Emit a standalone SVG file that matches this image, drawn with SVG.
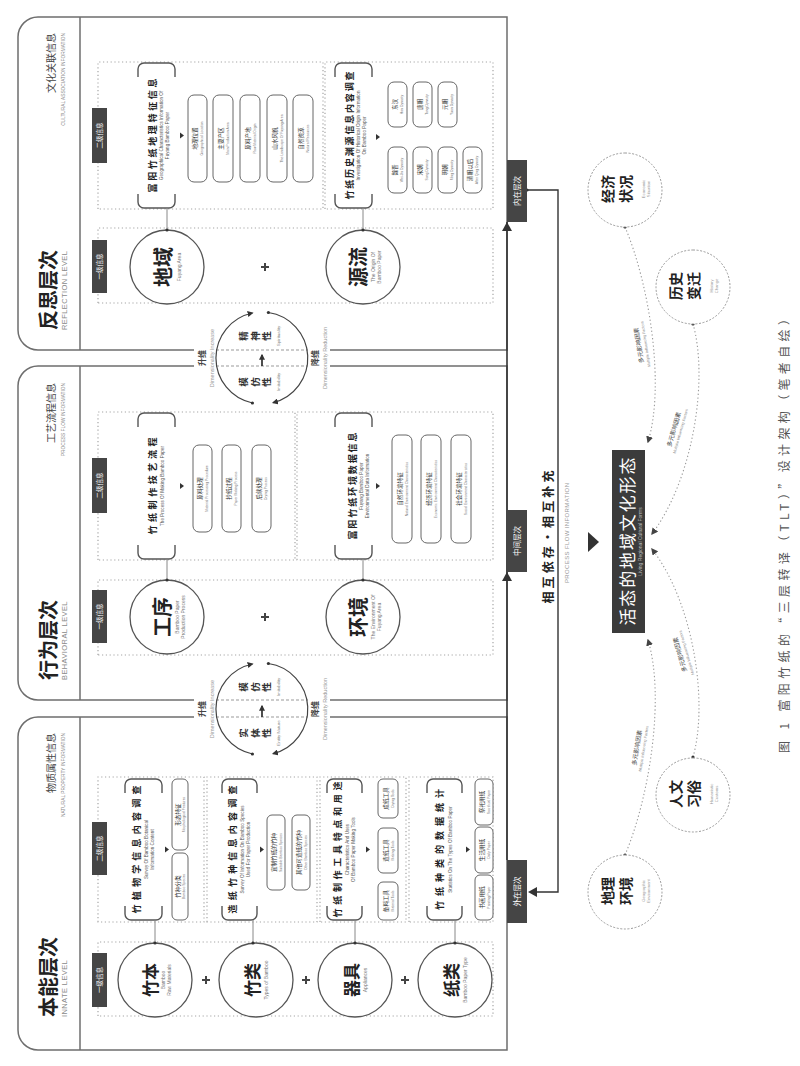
<svg xmlns="http://www.w3.org/2000/svg" width="800" height="1066" viewBox="0 0 800 1066">
<style>
.cn{font-family:"Noto Sans CJK SC","Noto Sans",sans-serif}
.en{font-family:"Liberation Sans",Arial,sans-serif}
.pan{fill:none;stroke:#6e6e6e;stroke-width:1.5}
.pdash{fill:none;stroke:#999;stroke-width:1;stroke-dasharray:3 2}
.dbox{fill:none;stroke:#a5a5a5;stroke-width:1.2;stroke-dasharray:1.2 2.6}
.lab{fill:#454545}
.labt{fill:#fff;font-size:6.5px;text-anchor:middle}
.brk{fill:none;stroke:#555;stroke-width:1.4}
.pill{fill:#fff;stroke:#666;stroke-width:1}
.pc{font-size:5.6px;fill:#333;text-anchor:middle}
.pe{font-size:3.4px;fill:#777;text-anchor:middle}
.circ{fill:#fff;stroke:#555;stroke-width:1.3}
.ctit{font-weight:700;fill:#222;text-anchor:middle}
.cen{font-size:5px;fill:#777;text-anchor:middle}
.stit{font-size:9px;font-weight:700;fill:#222;text-anchor:middle}
.sen{font-size:4.6px;fill:#555;text-anchor:middle}
.plus{stroke:#444;stroke-width:2;fill:none}
.conn{stroke:#888;stroke-width:1;fill:none}
.tri{fill:#333}
.dot{fill:#333}
.arc{fill:none;stroke:#444;stroke-width:1.2}
.gt{font-size:9.5px;font-weight:700;fill:#333;text-anchor:middle}
.ge{font-size:4.4px;fill:#888;text-anchor:middle}
.oc{fill:#fff;stroke:#999;stroke-width:1;stroke-dasharray:2 1.6}
.oct{font-size:14px;font-weight:700;fill:#222;text-anchor:middle}
.oce{font-size:4.2px;fill:#999;text-anchor:middle}
.cur{fill:none;stroke:#9a9a9a;stroke-width:1.1;stroke-dasharray:1.3 2.4}
.ml{font-size:6px;fill:#444;text-anchor:middle}
.me{font-size:3.8px;fill:#888;text-anchor:middle}
</style>
<defs>
<marker id="ah" viewBox="0 0 10 10" refX="8" refY="5" markerWidth="6" markerHeight="6" orient="auto" markerUnits="userSpaceOnUse"><path d="M0,0 L10,5 L0,10 z" fill="#333"/></marker>
<marker id="ah2" viewBox="0 0 10 10" refX="8" refY="5" markerWidth="7" markerHeight="7" orient="auto" markerUnits="userSpaceOnUse"><path d="M0,0 L10,5 L0,10 z" fill="#444"/></marker>
</defs>
<rect x="0" y="0" width="800" height="1066" fill="#fff"/>
<g transform="translate(0,1066) rotate(-90)">

<!-- ============ PANEL A : INNATE ============ -->
<g id="panel-innate">
<path class="pan" d="M349,194 V38 A20,20 0 0 0 329,18 H36 A20,20 0 0 0 16,38 V507 H349 V330"/>
<line class="pan" x1="16" y1="80" x2="349" y2="80"/>
<text class="cn" x="49" y="56" font-size="20" font-weight="700" fill="#222">本能层次</text>
<text class="en" x="49" y="67" font-size="7.5" fill="#8a8a8a" letter-spacing="0.4">INNATE LEVEL</text>
<text class="cn" x="333" y="55" font-size="10" text-anchor="end" fill="#444">物质属性信息</text>
<text class="en" x="333" y="65" font-size="4.8" text-anchor="end" fill="#888">NATURAL PROPERTY INFORMATION</text>
<rect class="dbox" x="50" y="98" width="74" height="395"/>
<rect class="dbox" x="144" y="98" width="145" height="106"/>
<rect class="dbox" x="144" y="207" width="145" height="110"/>
<rect class="dbox" x="144" y="320" width="145" height="86"/>
<rect class="dbox" x="144" y="409" width="145" height="84"/>
<rect class="lab" x="59" y="92" width="54" height="15"/>
<text class="cn labt" x="86" y="101.8">一级信息</text>
<rect class="lab" x="191" y="92" width="53" height="15"/>
<text class="cn labt" x="217.5" y="101.8">二级信息</text>
</g>
<g id="node-zhuben">
<circle class="circ" cx="86" cy="155" r="37"/>
<text class="cn ctit" x="86" y="157" font-size="17">竹本</text>
<text class="en cen" x="86" y="165">Bamboo</text>
<text class="en cen" x="86" y="171">Raw Materials</text>
</g>
<g id="node-zhulei">
<circle class="circ" cx="86" cy="256" r="37"/>
<text class="cn ctit" x="86" y="259" font-size="17">竹类</text>
<text class="en cen" x="86" y="268">Types of Bamboo</text>
</g>
<g id="node-qiju">
<circle class="circ" cx="86" cy="355" r="37"/>
<text class="cn ctit" x="86" y="358" font-size="17">器具</text>
<text class="en cen" x="86" y="367">Appliances</text>
</g>
<g id="node-zhilei">
<circle class="circ" cx="86" cy="455" r="37"/>
<text class="cn ctit" x="86" y="458" font-size="17">纸类</text>
<text class="en cen" x="86" y="467">Bamboo Paper Type</text>
</g>
<g id="survey-a1">
<path class="brk" d="M160,125 H152 A6,6 0 0 0 146,131 V156 A6,6 0 0 0 152,162 H160 M273,125 H281 A6,6 0 0 1 287,131 V156 A6,6 0 0 1 281,162 H273"/>
<text class="cn stit" x="216.5" y="140" textLength="128" lengthAdjust="spacing">竹植物学信息内容调查</text>
<text class="en sen" x="216.5" y="148">Survey Of Bamboo Botanical</text>
<text class="en sen" x="216.5" y="154">Information Content</text>
<path class="tri" d="M213.5,165 H219.5 L216.5,169 z"/>
<rect class="pill" x="146" y="172" width="67" height="16" rx="5"/>
<text class="cn pc" x="179.5" y="180">竹种分类</text>
<text class="en pe" x="179.5" y="185">Bamboo Species</text>
<rect class="pill" x="216" y="172" width="71" height="16" rx="5"/>
<text class="cn pc" x="251.5" y="180">形态特征</text>
<text class="en pe" x="251.5" y="185">Morphological Features</text>
</g>
<g id="survey-a2">
<path class="brk" d="M160,222 H152 A6,6 0 0 0 146,228 V251 A6,6 0 0 0 152,257 H160 M273,222 H281 A6,6 0 0 1 287,228 V251 A6,6 0 0 1 281,257 H273"/>
<text class="cn stit" x="216.5" y="236" textLength="128" lengthAdjust="spacing">造纸竹种信息内容调查</text>
<text class="en sen" x="216.5" y="244">Survey Of Information On Bamboo Species</text>
<text class="en sen" x="216.5" y="250">Used For Paper Production</text>
<path class="tri" d="M213.5,260 H219.5 L216.5,264 z"/>
<rect class="pill" x="176" y="267" width="75" height="18" rx="5"/>
<text class="cn pc" x="213.5" y="276">宜制竹纸的竹种</text>
<text class="en pe" x="213.5" y="281.5">Suitable Bamboo Species</text>
<rect class="pill" x="176" y="292" width="75" height="18" rx="5"/>
<text class="cn pc" x="213.5" y="301">其他可造纸的竹种</text>
<text class="en pe" x="213.5" y="306.5">Other Bamboo Species</text>
</g>
<g id="survey-a3">
<path class="brk" d="M160,327 H152 A6,6 0 0 0 146,333 V356 A6,6 0 0 0 152,362 H160 M273,327 H281 A6,6 0 0 1 287,333 V356 A6,6 0 0 1 281,362 H273"/>
<text class="cn stit" x="216.5" y="341" textLength="136" lengthAdjust="spacing">竹纸制作工具特点和用途</text>
<text class="en sen" x="216.5" y="349">Characteristics And Uses</text>
<text class="en sen" x="216.5" y="355">Of Bamboo Paper Making Tools</text>
<path class="tri" d="M213.5,366 H219.5 L216.5,370 z"/>
<rect class="pill" x="146" y="378" width="38" height="20" rx="5"/>
<text class="cn pc" x="165" y="388">备料工具</text>
<text class="en pe" x="165" y="394">Material Tools</text>
<rect class="pill" x="193" y="378" width="45" height="20" rx="5"/>
<text class="cn pc" x="215.5" y="388">造纸工具</text>
<text class="en pe" x="215.5" y="394">Making Tools</text>
<rect class="pill" x="248" y="378" width="39" height="20" rx="5"/>
<text class="cn pc" x="267.5" y="388">成纸工具</text>
<text class="en pe" x="267.5" y="394">Drying Tools</text>
</g>
<g id="survey-a4">
<path class="brk" d="M160,427 H152 A6,6 0 0 0 146,433 V456 A6,6 0 0 0 152,462 H160 M273,427 H281 A6,6 0 0 1 287,433 V456 A6,6 0 0 1 281,462 H273"/>
<text class="cn stit" x="216.5" y="443" textLength="121" lengthAdjust="spacing">竹纸种类的数据统计</text>
<text class="en sen" x="216.5" y="452">Statistics On The Types Of Bamboo Paper</text>
<path class="tri" d="M213.5,466 H219.5 L216.5,470 z"/>
<rect class="pill" x="146" y="475" width="45" height="18" rx="5"/>
<text class="cn pc" x="168.5" y="484">书画用纸</text>
<text class="en pe" x="168.5" y="489.5">Painting Paper</text>
<rect class="pill" x="193" y="475" width="46" height="18" rx="5"/>
<text class="cn pc" x="216" y="484">生活用纸</text>
<text class="en pe" x="216" y="489.5">Daily Paper</text>
<rect class="pill" x="241" y="475" width="46" height="18" rx="5"/>
<text class="cn pc" x="264" y="484">祭祀用纸</text>
<text class="en pe" x="264" y="489.5">Sacrificial Paper</text>
</g>

<!-- ============ PANEL B : BEHAVIORAL ============ -->
<g id="panel-behavioral">
<path class="pan" d="M366,194 V38 A20,20 0 0 1 386,18 H680 A20,20 0 0 1 700,38 V194 M700,330 V507 H366 V330"/>
<line class="pan" x1="366" y1="80" x2="700" y2="80"/>
<text class="cn" x="386" y="56" font-size="20" font-weight="700" fill="#222">行为层次</text>
<text class="en" x="386" y="67" font-size="7.5" fill="#8a8a8a" letter-spacing="0.4">BEHAVIORAL LEVEL</text>
<text class="cn" x="683" y="55" font-size="10" text-anchor="end" fill="#444">工艺流程信息</text>
<text class="en" x="683" y="65" font-size="4.8" text-anchor="end" fill="#888">PROCESS FLOW INFORMATION</text>
<rect class="dbox" x="411" y="98" width="75" height="395"/>
<rect class="dbox" x="506" y="98" width="148" height="197"/>
<rect class="dbox" x="506" y="297" width="148" height="196"/>
<rect class="lab" x="423" y="92" width="53" height="15"/>
<text class="cn labt" x="449.5" y="101.8">一级信息</text>
<rect class="lab" x="553" y="92" width="55" height="15"/>
<text class="cn labt" x="580.5" y="101.8">二级信息</text>
</g>
<g id="node-gongxu">
<circle class="circ" cx="449" cy="167" r="37"/>
<text class="cn ctit" x="449" y="170" font-size="20">工序</text>
<text class="en cen" x="449" y="179">Bamboo Paper</text>
<text class="en cen" x="449" y="185">Production Process</text>
</g>
<g id="node-huanjing">
<circle class="circ" cx="449" cy="363" r="37"/>
<text class="cn ctit" x="449" y="366" font-size="20">环境</text>
<text class="en cen" x="449" y="375">The Environment Of</text>
<text class="en cen" x="449" y="381">Fuyang Area</text>
</g>
<g id="survey-b1">
<path class="brk" d="M521,138 H513 A6,6 0 0 0 507,144 V169 A6,6 0 0 0 513,175 H521 M639,138 H647 A6,6 0 0 1 653,144 V169 A6,6 0 0 1 647,175 H639"/>
<text class="cn stit" x="580" y="156" textLength="97" lengthAdjust="spacing">竹纸制作技艺流程</text>
<text class="en sen" x="580" y="164">The Process Of Making Bamboo Paper</text>
<path class="tri" d="M577,180 H583 L580,184 z"/>
<rect class="pill" x="534" y="193" width="87" height="19" rx="6"/>
<text class="cn pc" x="577.5" y="202">原料处理</text>
<text class="en pe" x="577.5" y="208">Material Processing Procedure</text>
<rect class="pill" x="534" y="222" width="87" height="19" rx="6"/>
<text class="cn pc" x="577.5" y="231">抄纸过程</text>
<text class="en pe" x="577.5" y="237">Paper Making Process</text>
<rect class="pill" x="534" y="252" width="87" height="19" rx="6"/>
<text class="cn pc" x="577.5" y="261">后续处理</text>
<text class="en pe" x="577.5" y="267">Drying Process</text>
</g>
<g id="survey-b2">
<path class="brk" d="M521,335 H513 A6,6 0 0 0 507,341 V366 A6,6 0 0 0 513,372 H521 M639,335 H647 A6,6 0 0 1 653,341 V366 A6,6 0 0 1 647,372 H639"/>
<text class="cn stit" x="580" y="356" textLength="107" lengthAdjust="spacing">富阳竹纸环境数据信息</text>
<text class="en sen" x="580" y="363">Fuyang Bamboo Paper</text>
<text class="en sen" x="580" y="369">Environmental Data Information</text>
<path class="tri" d="M577,376 H583 L580,380 z"/>
<rect class="pill" x="523" y="392" width="108" height="20" rx="6"/>
<text class="cn pc" x="577" y="401.5">自然环境特征</text>
<text class="en pe" x="577" y="407.5">Natural Environment Characteristics</text>
<rect class="pill" x="523" y="421" width="108" height="20" rx="6"/>
<text class="cn pc" x="577" y="430.5">经济环境特征</text>
<text class="en pe" x="577" y="436.5">Economic Environment Characteristics</text>
<rect class="pill" x="523" y="451" width="108" height="20" rx="6"/>
<text class="cn pc" x="577" y="460.5">社会环境特征</text>
<text class="en pe" x="577" y="466.5">Social Environment Characteristics</text>
</g>

<!-- ============ PANEL C : REFLECTION ============ -->
<g id="panel-reflection">
<path class="pan" d="M716,194 V38 A20,20 0 0 1 736,18 H1029 A20,20 0 0 1 1049,38 V507 H716 V330"/>
<line class="pan" x1="716" y1="80" x2="1049" y2="80"/>
<text class="cn" x="736" y="56" font-size="20" font-weight="700" fill="#222">反思层次</text>
<text class="en" x="736" y="67" font-size="7.5" fill="#8a8a8a" letter-spacing="0.4">REFLECTION LEVEL</text>
<text class="cn" x="1033" y="55" font-size="10" text-anchor="end" fill="#444">文化关联信息</text>
<text class="en" x="1033" y="65" font-size="4.8" text-anchor="end" fill="#888">CULTURAL ASSOCIATION INFORMATION</text>
<rect class="dbox" x="763" y="98" width="75" height="395"/>
<rect class="dbox" x="857" y="98" width="147" height="225"/>
<rect class="dbox" x="857" y="325" width="147" height="168"/>
<rect class="lab" x="773" y="92" width="53" height="15"/>
<text class="cn labt" x="799.5" y="101.8">一级信息</text>
<rect class="lab" x="903" y="92" width="55" height="15"/>
<text class="cn labt" x="930.5" y="101.8">二级信息</text>
</g>
<g id="node-diyu">
<circle class="circ" cx="799" cy="167" r="37"/>
<text class="cn ctit" x="799" y="171" font-size="20">地域</text>
<text class="en cen" x="799" y="181">Fuyang Area</text>
</g>
<g id="node-yuanliu">
<circle class="circ" cx="799" cy="363" r="37"/>
<text class="cn ctit" x="799" y="366" font-size="20">源流</text>
<text class="en cen" x="799" y="375">The Origin Of</text>
<text class="en cen" x="799" y="381">Bamboo Paper</text>
</g>
<g id="survey-c1">
<path class="brk" d="M872,138 H864 A6,6 0 0 0 858,144 V169 A6,6 0 0 0 864,175 H872 M989,138 H997 A6,6 0 0 1 1003,144 V169 A6,6 0 0 1 997,175 H989"/>
<text class="cn stit" x="930.5" y="156" textLength="114" lengthAdjust="spacing">富阳竹纸地理特征信息</text>
<text class="en sen" x="930.5" y="163">Geographical Characteristics Information Of</text>
<text class="en sen" x="930.5" y="169">Fuyang Bamboo Paper</text>
<path class="tri" d="M927.5,180 H933.5 L930.5,184 z"/>
<rect class="pill" x="884" y="188" width="87" height="19" rx="6"/>
<text class="cn pc" x="927.5" y="197">地理位置</text>
<text class="en pe" x="927.5" y="203">Geographical Location</text>
<rect class="pill" x="884" y="213" width="87" height="20" rx="6"/>
<text class="cn pc" x="927.5" y="222.5">主要产区</text>
<text class="en pe" x="927.5" y="228.5">Main Production Area</text>
<rect class="pill" x="884" y="240" width="87" height="20" rx="6"/>
<text class="cn pc" x="927.5" y="249.5">原料产地</text>
<text class="en pe" x="927.5" y="255.5">Raw Material Origin</text>
<rect class="pill" x="884" y="267" width="87" height="20" rx="6"/>
<text class="cn pc" x="927.5" y="276.5">山水风貌</text>
<text class="en pe" x="927.5" y="282.5">The Landscape Of Fuyang Area</text>
<rect class="pill" x="884" y="293" width="87" height="20" rx="6"/>
<text class="cn pc" x="927.5" y="302.5">自然资源</text>
<text class="en pe" x="927.5" y="308.5">Natural Resources</text>
</g>
<g id="survey-c2">
<path class="brk" d="M872,335 H864 A6,6 0 0 0 858,341 V366 A6,6 0 0 0 864,372 H872 M989,335 H997 A6,6 0 0 1 1003,341 V366 A6,6 0 0 1 997,372 H989"/>
<text class="cn stit" x="930.5" y="353" textLength="128" lengthAdjust="spacing">竹纸历史渊源信息内容调查</text>
<text class="en sen" x="930.5" y="360">Investigation Of Historical Origin Information</text>
<text class="en sen" x="930.5" y="366">On Bamboo Paper</text>
<path class="tri" d="M926,376 H932 L929,380 z"/>
<rect class="pill" x="873" y="388" width="46" height="19" rx="6"/>
<text class="cn pc" x="896" y="397">魏晋</text>
<text class="en pe" x="896" y="403">Wei-Jin Dynasty</text>
<rect class="pill" x="873" y="413" width="46" height="19" rx="6"/>
<text class="cn pc" x="896" y="422">宋朝</text>
<text class="en pe" x="896" y="428">Song Dynasty</text>
<rect class="pill" x="873" y="438" width="46" height="19" rx="6"/>
<text class="cn pc" x="896" y="447">明朝</text>
<text class="en pe" x="896" y="453">Ming Dynasty</text>
<rect class="pill" x="873" y="463" width="46" height="19" rx="6"/>
<text class="cn pc" x="896" y="472">清朝以后</text>
<text class="en pe" x="896" y="478">After Qing Dynasty</text>
<rect class="pill" x="939" y="388" width="45" height="19" rx="6"/>
<text class="cn pc" x="961.5" y="397">东汉</text>
<text class="en pe" x="961.5" y="403">Han Dynasty</text>
<rect class="pill" x="939" y="413" width="45" height="19" rx="6"/>
<text class="cn pc" x="961.5" y="422">唐朝</text>
<text class="en pe" x="961.5" y="428">Tang Dynasty</text>
<rect class="pill" x="939" y="438" width="45" height="19" rx="6"/>
<text class="cn pc" x="961.5" y="447">元朝</text>
<text class="en pe" x="961.5" y="453">Yuan Dynasty</text>
</g>

<!-- ============ GAP CYCLES ============ -->
<g id="cycle-ab">
<line class="pdash" x1="349" y1="216" x2="349" y2="308"/>
<line class="pdash" x1="366" y1="216" x2="366" y2="308"/>
<path class="arc" d="M312,252.4 A46,46 0 0 1 402,252.4" marker-end="url(#ah)"/>
<path class="arc" d="M402.5,268.4 A46,46 0 0 1 312.4,273.1" marker-end="url(#ah)"/>
<circle class="dot" cx="312" cy="252.4" r="1.6"/>
<circle class="dot" cx="402.5" cy="268.4" r="1.6"/>
<text class="cn gt" x="333"><tspan x="333" y="247">实</tspan><tspan x="333" y="258.5">体</tspan><tspan x="333" y="270">性</tspan></text>
<text class="en ge" x="333" y="280">Entity Nature</text>
<text class="cn gt" x="379"><tspan x="379" y="247">模</tspan><tspan x="379" y="258.5">仿</tspan><tspan x="379" y="270">性</tspan></text>
<text class="en ge" x="379" y="280">Imitability</text>
<path d="M349,262 H360" stroke="#222" stroke-width="1.6" marker-end="url(#ah)"/>
<text class="cn" x="357" y="205" font-size="8" font-weight="700" fill="#444" text-anchor="middle">升维</text>
<text class="en" x="357" y="214" font-size="5.5" fill="#999" text-anchor="middle">Dimensionality Increase</text>
<text class="cn" x="357" y="318" font-size="8" font-weight="700" fill="#444" text-anchor="middle">降维</text>
<text class="en" x="357" y="327" font-size="5.5" fill="#999" text-anchor="middle">Dimensionality Reduction</text>
</g>
<g id="cycle-bc">
<line class="pdash" x1="700" y1="216" x2="700" y2="308"/>
<line class="pdash" x1="716" y1="216" x2="716" y2="308"/>
<path class="arc" d="M663,252.4 A46,46 0 0 1 753,252.4" marker-end="url(#ah)"/>
<path class="arc" d="M753.5,268.4 A46,46 0 0 1 663.4,273.1" marker-end="url(#ah)"/>
<circle class="dot" cx="663" cy="252.4" r="1.6"/>
<circle class="dot" cx="753.5" cy="268.4" r="1.6"/>
<text class="cn gt" x="684"><tspan x="684" y="247">模</tspan><tspan x="684" y="258.5">仿</tspan><tspan x="684" y="270">性</tspan></text>
<text class="en ge" x="684" y="280">Imitability</text>
<text class="cn gt" x="730"><tspan x="730" y="247">精</tspan><tspan x="730" y="258.5">神</tspan><tspan x="730" y="270">性</tspan></text>
<text class="en ge" x="730" y="280">Spirituality</text>
<path d="M700,262 H711" stroke="#222" stroke-width="1.6" marker-end="url(#ah)"/>
<text class="cn" x="708" y="205" font-size="8" font-weight="700" fill="#444" text-anchor="middle">升维</text>
<text class="en" x="708" y="214" font-size="5.5" fill="#999" text-anchor="middle">Dimensionality Increase</text>
<text class="cn" x="708" y="318" font-size="8" font-weight="700" fill="#444" text-anchor="middle">降维</text>
<text class="en" x="708" y="327" font-size="5.5" fill="#999" text-anchor="middle">Dimensionality Reduction</text>
</g>

<!-- ============ CONNECTORS ============ -->
<g id="connectors">
<line class="conn" x1="123" y1="155" x2="146" y2="155"/>
<line class="conn" x1="123" y1="253" x2="146" y2="253"/>
<line class="conn" x1="123" y1="355" x2="146" y2="355"/>
<line class="conn" x1="123" y1="455" x2="146" y2="455"/>
<line class="conn" x1="486" y1="167" x2="507" y2="167"/>
<line class="conn" x1="486" y1="363" x2="507" y2="363"/>
<line class="conn" x1="836" y1="167" x2="858" y2="167"/>
<line class="conn" x1="836" y1="363" x2="858" y2="363"/>
<circle class="dot" cx="123" cy="155" r="1.6"/>
<circle class="dot" cx="123" cy="253" r="1.6"/>
<circle class="dot" cx="123" cy="355" r="1.6"/>
<circle class="dot" cx="123" cy="455" r="1.6"/>
<circle class="dot" cx="486" cy="167" r="1.6"/>
<circle class="dot" cx="486" cy="363" r="1.6"/>
<circle class="dot" cx="836" cy="167" r="1.6"/>
<circle class="dot" cx="836" cy="363" r="1.6"/>
<path class="plus" d="M82,206 H90 M86,202 V210 M82,306 H90 M86,302 V310 M82,405 H90 M86,401 V409 M445,265 H453 M449,261 V269 M795,265 H803 M799,261 V269"/>
<line x1="206" y1="507" x2="844" y2="507" stroke="#333" stroke-width="1.6"/>
<path class="tri" d="M494,507 L485,502 L485,512 z"/>
<path class="tri" d="M844,507 L835,502 L835,512 z"/>
<path d="M876,527 V558 H174 V536" fill="none" stroke="#333" stroke-width="1.4"/>
<path class="tri" d="M174,528 L169,537 L179,537 z"/>
<circle class="dot" cx="876" cy="527" r="1.6"/>
<path class="cur" d="M839,625 C780,650 680,665 624,648" marker-end="url(#ah2)"/>
<path class="cur" d="M742,693 C690,708 590,695 532,652" marker-end="url(#ah2)"/>
<path class="cur" d="M309,693 C361,708 461,695 517,652" marker-end="url(#ah2)"/>
<path class="cur" d="M211,625 C270,650 370,665 426,648" marker-end="url(#ah2)"/>
<circle class="dot" cx="839" cy="625" r="1.6"/>
<circle class="dot" cx="742" cy="693" r="1.6"/>
<circle class="dot" cx="309" cy="693" r="1.6"/>
<circle class="dot" cx="211" cy="625" r="1.6"/>
<g transform="translate(721,641) rotate(-9)"><text class="cn ml" x="0" y="0">多元影响因素</text><text class="en me" x="0" y="6">Multiple Influencing Factors</text></g>
<g transform="translate(636,676) rotate(16)"><text class="cn ml" x="0" y="0">多元影响因素</text><text class="en me" x="0" y="6">Multiple Influencing Factors</text></g>
<g transform="translate(412,682) rotate(-16)"><text class="cn ml" x="0" y="0">多元影响因素</text><text class="en me" x="0" y="6">Multiple Influencing Factors</text></g>
<g transform="translate(318,639) rotate(9)"><text class="cn ml" x="0" y="0">多元影响因素</text><text class="en me" x="0" y="6">Multiple Influencing Factors</text></g>
<path class="tri" d="M514,588 H534 L524,599 z"/>
</g>

<!-- ============ LEVEL TAGS ============ -->
<g id="tag-outer">
<rect class="lab" x="143" y="507" width="63" height="20"/>
<text class="cn" x="174.5" y="520" font-size="7.5" fill="#fff" text-anchor="middle">外在层次</text>
</g>
<g id="tag-middle">
<rect class="lab" x="494" y="507" width="62" height="20"/>
<text class="cn" x="525" y="520" font-size="7.5" fill="#fff" text-anchor="middle">中间层次</text>
</g>
<g id="tag-inner">
<rect class="lab" x="844" y="507" width="62" height="20"/>
<text class="cn" x="875" y="520" font-size="7.5" fill="#fff" text-anchor="middle">内在层次</text>
</g>

<g id="relation-text">
<text class="cn" x="529" y="553" font-size="12" font-weight="700" fill="#222" text-anchor="middle" textLength="133" lengthAdjust="spacing">相互依存·相互补充</text>
<text class="en" x="533" y="569" font-size="6" fill="#999" text-anchor="middle" textLength="100" lengthAdjust="spacing">PROCESS FLOW INFORMATION</text>
</g>

<g id="node-center">
<rect x="433" y="612" width="183" height="33" fill="#3b3b3b"/>
<text class="cn" x="524.5" y="634" font-size="17" fill="#fff" text-anchor="middle" textLength="168" lengthAdjust="spacing">活态的地域文化形态</text>
<text class="en" x="524.5" y="642" font-size="5" fill="#bbb" text-anchor="middle">Living Regional Cultural Forms</text>
</g>

<g id="node-economy">
<circle class="oc" cx="876" cy="625" r="37"/>
<text class="cn oct" x="877" y="613">经济</text>
<text class="cn oct" x="877" y="631">状况</text>
<text class="en oce" x="877" y="645">Economic</text>
<text class="en oce" x="877" y="650">Situation</text>
</g>
<g id="node-history">
<circle class="oc" cx="779" cy="693" r="37"/>
<text class="cn oct" x="780" y="681">历史</text>
<text class="cn oct" x="780" y="699">变迁</text>
<text class="en oce" x="780" y="713">History</text>
<text class="en oce" x="780" y="718">Change</text>
</g>
<g id="node-custom">
<circle class="oc" cx="271" cy="693" r="37"/>
<text class="cn oct" x="272" y="681">人文</text>
<text class="cn oct" x="272" y="699">习俗</text>
<text class="en oce" x="272" y="713">Humanistic</text>
<text class="en oce" x="272" y="718">Customs</text>
</g>
<g id="node-geo">
<circle class="oc" cx="174" cy="625" r="37"/>
<text class="cn oct" x="175" y="613">地理</text>
<text class="cn oct" x="175" y="631">环境</text>
<text class="en oce" x="175" y="645">Geographic</text>
<text class="en oce" x="175" y="650">Environment</text>
</g>

<text id="caption" class="cn" x="533" y="789" font-size="12" fill="#555" text-anchor="middle" textLength="440" lengthAdjust="spacing">图 1  富阳竹纸的“三层转译（TLT）”设计架构（笔者自绘）</text>
</g>
</svg>
